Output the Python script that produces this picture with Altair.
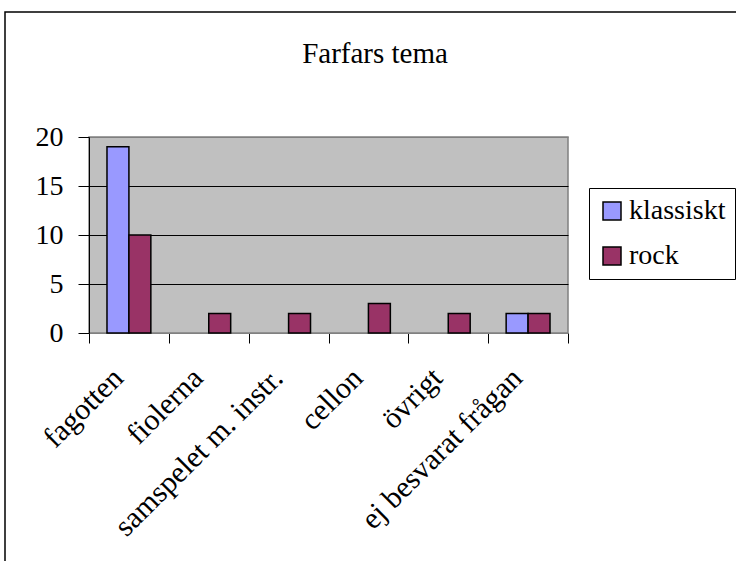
import altair as alt
import pandas as pd

# Survey answers per category, two listener groups
categories = ["fagotten", "fiolerna", "samspelet m. instr.", "cellon", "övrigt", "ej besvarat frågan"]
series = ["klassiskt", "rock"]
klassiskt = [19, 0, 0, 0, 0, 2]
rock = [10, 2, 2, 3, 2, 2]
y_ticks = [0, 5, 10, 15, 20]
colors = ["#9999FF", "#993366"]
title_text = "Farfars tema"

rows = []
for cat, k, r in zip(categories, klassiskt, rock):
    rows.append({"kategori": cat, "grupp": "klassiskt", "antal": k})
    rows.append({"kategori": cat, "grupp": "rock", "antal": r})
df = pd.DataFrame(rows)

FONT = "Times New Roman, Liberation Serif, serif"

bars = (
    alt.Chart(df)
    .transform_filter("datum.antal > 0")
    .mark_bar(stroke="black", strokeWidth=1.5)
    .encode(
        x=alt.X(
            "kategori:N",
            sort=categories,
            scale=alt.Scale(paddingInner=0, paddingOuter=0),
            axis=alt.Axis(
                title=None,
                labelAngle=-45,
                labelAlign="right",
                labelBaseline="middle",
                labelFont=FONT,
                labelFontSize=30,
                labelColor="black",
                labelPadding=30,
                labelOffset=-11,
                tickBand="extent",
                tickColor="black",
                tickSize=10,
                domainColor="#808080",
                labelOverlap=False,
                labelLimit=400,
            ),
        ),
        xOffset=alt.XOffset(
            "grupp:N",
            sort=series,
            scale=alt.Scale(paddingInner=0, paddingOuter=0.82),
        ),
        y=alt.Y(
            "antal:Q",
            scale=alt.Scale(domain=[0, 20], nice=False),
            axis=alt.Axis(
                title=None,
                values=y_ticks,
                labelFont=FONT,
                labelFontSize=28,
                labelColor="black",
                labelPadding=15,
                tickSize=11,
                tickColor="black",
                domainColor="black",
                grid=True,
                gridColor={
                    "condition": {"test": "datum.value == 0 || datum.value == 20", "value": "#808080"},
                    "value": "black",
                },
                gridOpacity=1,
            ),
        ),
        color=alt.Color(
            "grupp:N",
            sort=series,
            scale=alt.Scale(domain=series, range=colors),
            legend=alt.Legend(
                title=None,
                orient="none",
                legendX=500,
                legendY=51,
                labelFont=FONT,
                labelFontSize=28,
                labelColor="black",
                symbolType="square",
                symbolSize=324,
                symbolStrokeColor="black",
                symbolStrokeWidth=1.5,
                symbolOpacity=1,
                labelOffset=3,
                rowPadding=17,
                padding=9,
                strokeColor="black",
                fillColor="white",
            ),
        ),
    )
)

# outer frame of the chart object
frame = (
    alt.Chart(alt.Data(values=[{}]))
    .mark_rect(fill="transparent", stroke="black", strokeWidth=1.5)
    .encode(
        x=alt.value(-84),
        x2=alt.value(900),
        y=alt.value(-125),
        y2=alt.value(700),
    )
)

# chart heading, centred over the whole frame
heading = (
    alt.Chart(alt.Data(values=[{"t": title_text}]))
    .mark_text(font=FONT, fontSize=29, color="black", align="center", baseline="alphabetic")
    .encode(text="t:N", x=alt.value(286), y=alt.value(-74))
)

chart = (
    alt.layer(frame, bars, heading)
    .properties(
        width=479,
        height=196,
        autosize=alt.AutoSizeParams(type="none"),
        padding={"left": 89, "top": 137, "right": 168, "bottom": 228},
        background="white",
    )
    .configure_view(fill="#C0C0C0", stroke="#808080", strokeWidth=1.5)
)

chart.save("out.html", embed_options={"renderer": "svg", "actions": False})
